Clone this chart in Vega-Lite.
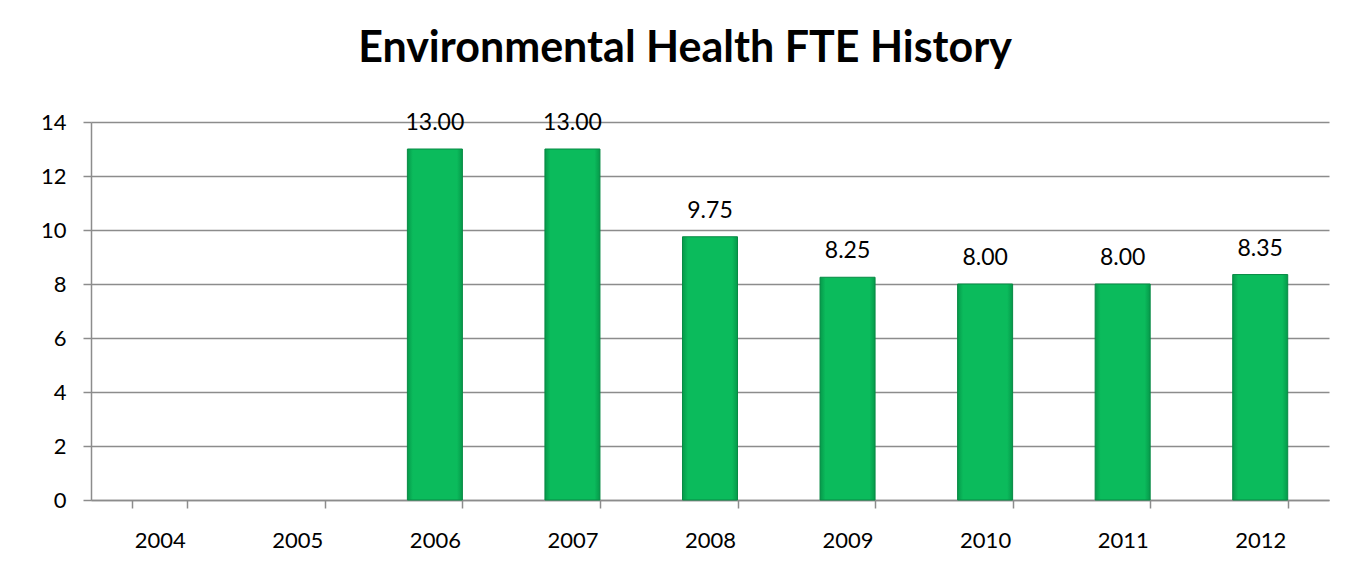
{
  "$schema": "https://vega.github.io/schema/vega-lite/v6.json",
  "autosize": {"type": "none"},
  "width": 1238,
  "height": 378,
  "padding": {"left": 91, "top": 122, "right": 17, "bottom": 79},
  "background": "white",
  "title": {
    "text": "Environmental Health FTE History",
    "font": "Lato",
    "fontSize": 43,
    "fontWeight": "bold",
    "color": "#000000",
    "anchor": "middle",
    "frame": "group",
    "baseline": "alphabetic",
    "offset": 60,
    "dx": -25,
    "dy": 54
  },
  "data": {
    "values": [
      {"year": "2004", "fte": null},
      {"year": "2005", "fte": null},
      {"year": "2006", "fte": 13.00},
      {"year": "2007", "fte": 13.00},
      {"year": "2008", "fte": 9.75},
      {"year": "2009", "fte": 8.25},
      {"year": "2010", "fte": 8.00},
      {"year": "2011", "fte": 8.00},
      {"year": "2012", "fte": 8.35}
    ]
  },
  "encoding": {
    "x": {
      "field": "year",
      "type": "ordinal",
      "sort": null,
      "scale": {
        "domain": ["2004", "2005", "2006", "2007", "2008", "2009", "2010", "2011", "2012"],
        "paddingInner": 0.6,
        "paddingOuter": 0.3
      },
      "axis": {
        "title": null,
        "labelAngle": 0,
        "tickBand": "extent",
        "grid": false,
        "domainColor": "#8c8c8c",
        "domainWidth": 1.5,
        "tickColor": "#8c8c8c",
        "tickWidth": 1.5,
        "tickSize": 8,
        "labelFont": "Lato",
        "labelFontSize": 22,
        "labelColor": "#000000",
        "labelPadding": 22
      }
    },
    "y": {
      "field": "fte",
      "type": "quantitative",
      "scale": {"domain": [0, 14], "nice": false},
      "axis": {
        "title": null,
        "values": [0, 2, 4, 6, 8, 10, 12, 14],
        "grid": true,
        "gridColor": "#8c8c8c",
        "gridWidth": 1.5,
        "domainColor": "#8c8c8c",
        "domainWidth": 1.5,
        "tickColor": "#8c8c8c",
        "tickWidth": 1.5,
        "tickSize": 8,
        "labelFont": "Lato",
        "labelFontSize": 22,
        "labelColor": "#000000",
        "labelPadding": 17
      }
    }
  },
  "layer": [
    {
      "mark": {
        "type": "bar",
        "stroke": "#078a44",
        "strokeWidth": 1,
        "color": {
          "gradient": "linear",
          "x1": 0, "y1": 0, "x2": 1, "y2": 0,
          "stops": [
            {"offset": 0, "color": "#06994a"},
            {"offset": 0.1, "color": "#0bbb5c"},
            {"offset": 0.9, "color": "#0bbb5c"},
            {"offset": 1, "color": "#06994a"}
          ]
        }
      }
    },
    {
      "mark": {
        "type": "text",
        "baseline": "alphabetic",
        "dy": -19,
        "font": "Lato",
        "fontSize": 23,
        "color": "#000000"
      },
      "encoding": {
        "text": {"field": "fte", "type": "quantitative", "format": ".2f"}
      }
    }
  ],
  "config": {
    "view": {"stroke": null}
  }
}
